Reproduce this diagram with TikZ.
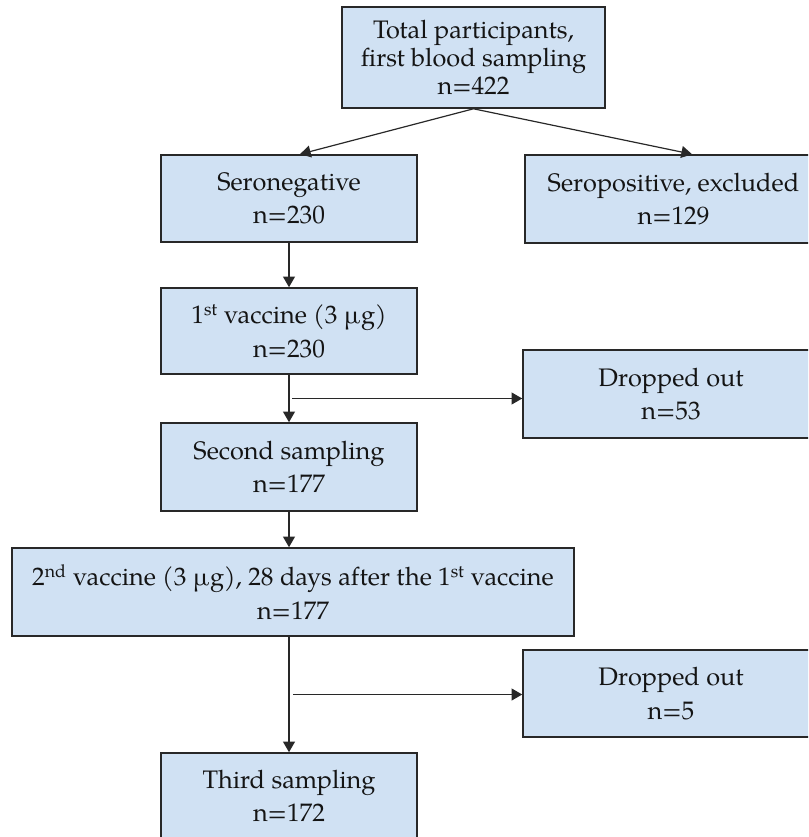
\documentclass[tikz,border=0pt]{standalone}
\usepackage{fontspec}
\setmainfont{TeX Gyre Pagella}
\usetikzlibrary{arrows.meta,calc}
\definecolor{boxfill}{RGB}{208,225,243}
\definecolor{edgecol}{RGB}{40,40,40}
\definecolor{txtcol}{RGB}{20,20,20}
\begin{document}
\begin{tikzpicture}[x=0.75pt,y=-0.75pt,
  box/.style={draw=edgecol,line width=1.2pt,fill=boxfill,rectangle,inner sep=0pt,align=center,text=txtcol,font=\fontsize{19}{25}\selectfont},
  conn/.style={draw=edgecol,line width=0.9pt},
  arr/.style={conn,-{Triangle[length=8pt,width=9pt]}}]
\useasboundingbox (0,0) rectangle (808,837);
\clip (0,0) rectangle (808,837);
\node[box,minimum width=197.25pt,minimum height=75.75pt,font=\fontsize{19}{21}\selectfont] (top) at (473.5,57.5) {Total participants,\\first blood sampling\\n=422};
\node[box,minimum width=192pt,minimum height=65.25pt] (neg) at (289,198.5) {Seronegative\\n=230};
\node[box,minimum width=222.75pt,minimum height=66pt] (pos) at (673.5,199) {Seropositive, excluded\\n=129};
\node[box,minimum width=192pt,minimum height=64.5pt] (vac1) at (289,331) {1\textsuperscript{st} vaccine (3 µg)\\n=230};
\node[box,minimum width=222pt,minimum height=66pt] (drop1) at (671,394) {Dropped out\\n=53};
\node[box,minimum width=192pt,minimum height=66pt] (samp2) at (289,467) {Second sampling\\n=177};
\node[box,minimum width=421.5pt,minimum height=66pt] (vac2) at (293,592) {2\textsuperscript{nd} vaccine (3 µg), 28 days after the 1\textsuperscript{st} vaccine\\n=177};
\node[box,minimum width=222pt,minimum height=65.25pt] (drop2) at (671,693.5) {Dropped out\\n=5};
\node[box,minimum width=192pt,minimum height=64.5pt] (samp3) at (289,796) {Third sampling\\n=172};
\draw[arr] (top.south) -- ($(neg.north)+(11,0)$);
\draw[arr] (top.south) -- ($(pos.north)+(18.5,0)$);
\draw[arr] (neg.south) -- (vac1.north);
\draw[arr] (vac1.south) -- (samp2.north);
\coordinate (b1) at ($(vac1.south)!0.5!(samp2.north)+(3,0)$);
\draw[arr] (b1) -- (b1 -| drop1.west);
\draw[arr] (samp2.south) -- (samp2.south |- vac2.north);
\draw[arr] (vac1.south |- vac2.south) -- (samp3.north);
\coordinate (b2) at ($(vac2.south)!0.5!(samp3.north)+(1,0)$);
\draw[arr] (b2 -| samp3.north) ++(4,0) coordinate (b2s) -- (b2s -| drop2.west);
\end{tikzpicture}
\end{document}
